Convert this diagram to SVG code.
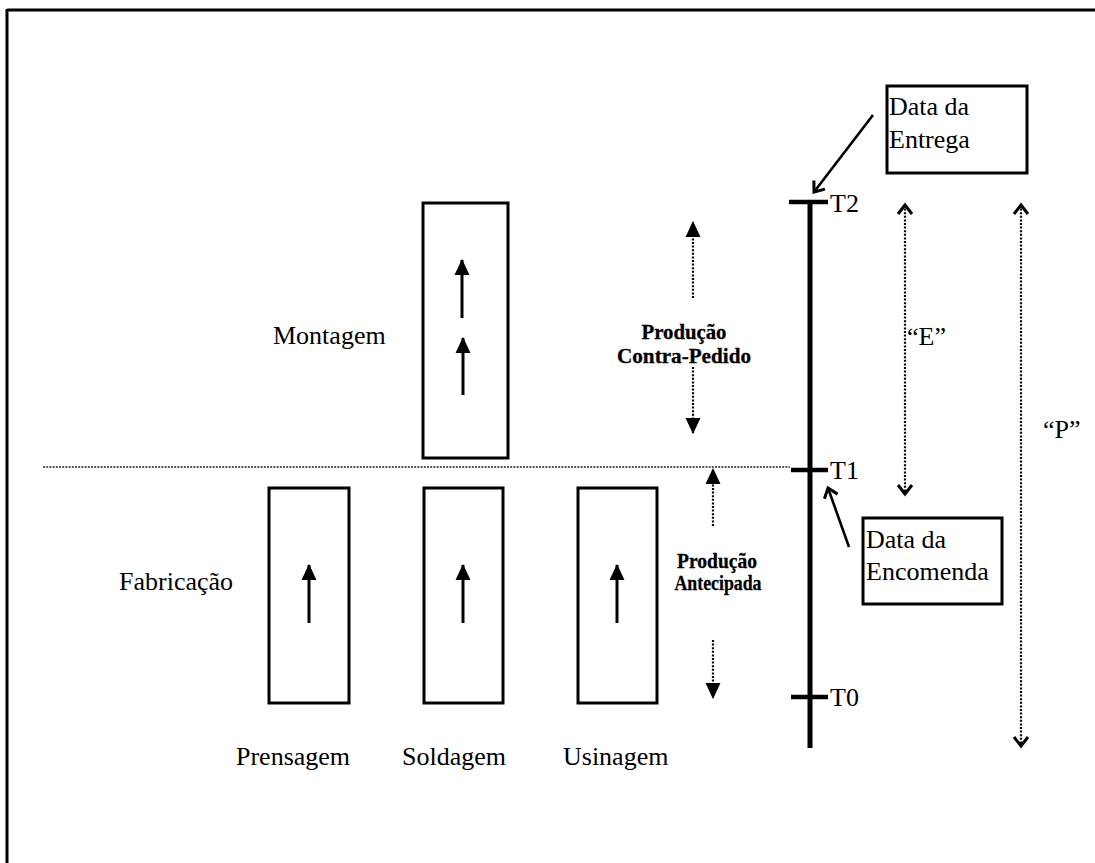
<svg xmlns="http://www.w3.org/2000/svg" width="1095" height="863" viewBox="0 0 1095 863">
<style>
  .box { fill: #fff; stroke: #000; stroke-width: 3; }
  .lbl { font-family: "Liberation Serif", "Times New Roman", serif; font-size: 26px; fill: #000; }
  .blbl { font-family: "Liberation Serif", "Times New Roman", serif; font-size: 21px; font-weight: bold; fill: #000; stroke: #000; stroke-width: 0.3; }
  .solid { stroke: #000; stroke-width: 3; fill: none; }
  .dot { stroke: #000; stroke-width: 2.2; fill: none; stroke-dasharray: 2 1.6; }
  .tick { stroke: #000; stroke-width: 4.5; }
</style>
<defs>
  <marker id="tri" markerUnits="userSpaceOnUse" markerWidth="16" markerHeight="16" viewBox="0 0 15 14" refX="14" refY="7" orient="auto">
    <path d="M0,0 L15,7 L0,14 z" fill="#000"/>
  </marker>
  <marker id="chev" markerUnits="userSpaceOnUse" markerWidth="16" markerHeight="20" viewBox="-3 -3 14 20" refX="9" refY="7" orient="auto-start-reverse">
    <path d="M0,0 L9,7 L0,14" fill="none" stroke="#000" stroke-width="3" stroke-linejoin="miter"/>
  </marker>
</defs>
<rect x="0" y="0" width="1095" height="863" fill="#fff"/>

<g id="frame">
  <line x1="7" y1="10" x2="1095" y2="10" stroke="#000" stroke-width="3"/>
  <line x1="7" y1="9" x2="7" y2="863" stroke="#000" stroke-width="3"/>
</g>

<g id="montagem">
  <rect class="box" x="423" y="203" width="85" height="255"/>
  <text class="lbl" x="273" y="344">Montagem</text>
</g>
<g id="fabricacao">
  <text class="lbl" x="119" y="590">Fabricação</text>
</g>
<g id="prensagem">
  <rect class="box" x="269" y="488" width="80" height="215"/>
  <text class="lbl" x="236" y="765">Prensagem</text>
</g>
<g id="soldagem">
  <rect class="box" x="424" y="488" width="79" height="215"/>
  <text class="lbl" x="402" y="765">Soldagem</text>
</g>
<g id="usinagem">
  <rect class="box" x="578" y="488" width="79" height="215"/>
  <text class="lbl" x="563" y="765">Usinagem</text>
</g>
<g id="producao-contra-pedido">
  <text class="blbl" x="684" y="339" text-anchor="middle" textLength="85" lengthAdjust="spacingAndGlyphs">Produção</text>
  <text class="blbl" x="684" y="363" text-anchor="middle" textLength="134" lengthAdjust="spacingAndGlyphs">Contra-Pedido</text>
</g>
<g id="producao-antecipada">
  <text class="blbl" x="717" y="568" text-anchor="middle" textLength="80" lengthAdjust="spacingAndGlyphs">Produção</text>
  <text class="blbl" x="718" y="590" text-anchor="middle" textLength="87" lengthAdjust="spacingAndGlyphs">Antecipada</text>
</g>
<g id="timeline">
  <line x1="810" y1="200" x2="810" y2="748" stroke="#000" stroke-width="5"/>
  <line class="tick" x1="789" y1="202" x2="828" y2="202"/>
  <line class="tick" x1="791" y1="470" x2="828" y2="470"/>
  <line class="tick" x1="791" y1="697" x2="828" y2="697"/>
  <text class="lbl" x="830" y="212">T2</text>
  <text class="lbl" x="830" y="479">T1</text>
  <text class="lbl" x="830" y="706">T0</text>
</g>
<g id="data-entrega">
  <rect class="box" x="887" y="86" width="140" height="87" stroke-width="2.5"/>
  <text class="lbl" x="889" y="115" font-size="27">Data da</text>
  <text class="lbl" x="889" y="148" font-size="27">Entrega</text>
</g>
<g id="data-encomenda">
  <rect class="box" x="863" y="518" width="139" height="86" stroke-width="2.5"/>
  <text class="lbl" x="866" y="548" font-size="27">Data da</text>
  <text class="lbl" x="866" y="580" font-size="27">Encomenda</text>
</g>
<g id="dim-E">
  <text class="lbl" x="907" y="345">“E”</text>
</g>
<g id="dim-P">
  <text class="lbl" x="1043" y="438">“P”</text>
</g>

<g id="connectors">
  <line x1="43" y1="467" x2="790" y2="467" stroke="#222" stroke-width="1.5" stroke-dasharray="2 1.2"/>
  <line class="solid" x1="462" y1="318" x2="462" y2="260" marker-end="url(#tri)"/>
  <line class="solid" x1="463" y1="395" x2="463" y2="338" marker-end="url(#tri)"/>
  <line class="solid" x1="309" y1="623" x2="309" y2="565" marker-end="url(#tri)"/>
  <line class="solid" x1="463" y1="623" x2="463" y2="565" marker-end="url(#tri)"/>
  <line class="solid" x1="617" y1="623" x2="617" y2="565" marker-end="url(#tri)"/>
  <line class="dot" x1="693" y1="298" x2="693" y2="222" marker-end="url(#tri)"/>
  <line class="dot" x1="693" y1="367" x2="693" y2="433" marker-end="url(#tri)"/>
  <line class="dot" x1="713" y1="526" x2="713" y2="469" marker-end="url(#tri)"/>
  <line class="dot" x1="713" y1="640" x2="713" y2="698" marker-end="url(#tri)"/>
  <line class="dot" x1="905" y1="205" x2="905" y2="494" marker-start="url(#chev)" marker-end="url(#chev)"/>
  <line class="dot" x1="1021" y1="205" x2="1021" y2="746" marker-start="url(#chev)" marker-end="url(#chev)"/>
  <line x1="873" y1="115" x2="814" y2="192" stroke="#000" stroke-width="2.6" marker-end="url(#chev)"/>
  <line x1="849" y1="547" x2="828" y2="488" stroke="#000" stroke-width="2.6" marker-end="url(#chev)"/>
</g>
</svg>
